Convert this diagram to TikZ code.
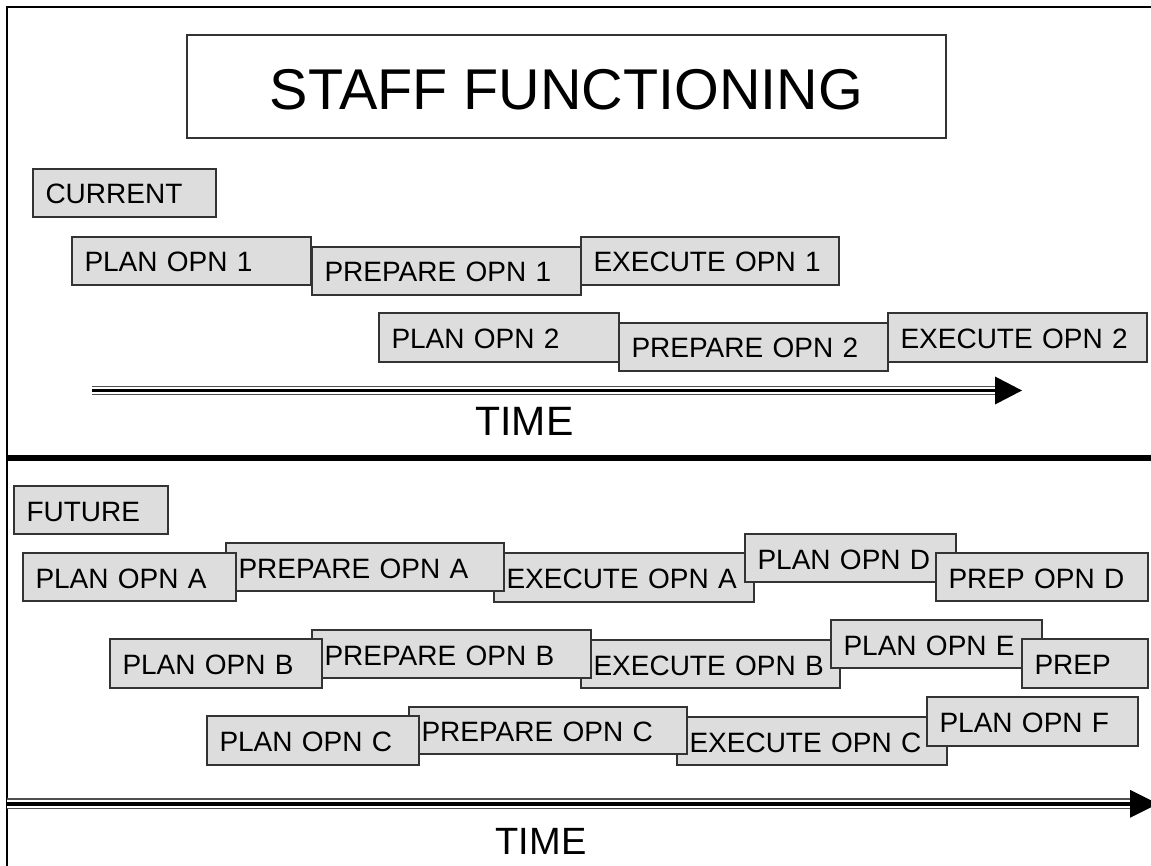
\documentclass[tikz,border=0pt]{standalone}
\usepackage{fontspec}
\setmainfont{Liberation Sans}
\definecolor{boxfill}{HTML}{DDDDDD}
\definecolor{boxline}{HTML}{333333}
\definecolor{railgray}{HTML}{505050}
\tikzset{
  opbox/.style={draw=boxline, fill=boxfill, line width=1.4pt, rectangle,
    inner xsep=12.5pt, inner ysep=0pt, outer sep=0pt, align=left,
    text height=22pt, text depth=0pt, font=\fontsize{28}{30}\selectfont,
    anchor=north west},
  titlebox/.style={draw=boxline, fill=white, line width=1.4pt, rectangle,
    inner sep=0pt, outer sep=0pt, text height=47pt, text depth=0pt,
    font=\fontsize{57.5}{60}\selectfont, anchor=north west},
  timelabel/.style={font=\fontsize{38}{40}\selectfont, inner sep=0pt},
  railout/.style={draw=railgray, line width=1.6pt, double=white, double distance=6pt},
  railin/.style={draw=black, line width=3pt},
  railoutb/.style={draw=railgray, line width=1.8pt, double=white, double distance=7.4pt},
  railinb/.style={draw=black, line width=3.7pt},
  frame/.style={draw=black, line width=2pt},
  divider/.style={draw=black, line width=5.5pt},
}
\newcommand\opb[6]{%
  \pgfmathsetmacro\bxw{#4-#2-25}%
  \pgfmathsetmacro\bxh{#5-#3}%
  \node[opbox, text width=\bxw pt, minimum height=\bxh pt] (#1) at (#2,#3) {#6};}
\begin{document}
\begin{tikzpicture}[x=1pt,y=-1pt]
\useasboundingbox (0,0) rectangle (1151,866);
\fill[white] (0,0) rectangle (1151,866);
% frame and divider
\draw[frame] (7,866) -- (7,7.5) -- (1151,7.5);
\draw[divider] (7,458) -- (1151,458);
% title
\pgfmathsetmacro\tw{946-187}
\pgfmathsetmacro\th{138-35}
\node[titlebox, minimum width=\tw pt, minimum height=\th pt] (title) at (187,35) {STAFF FUNCTIONING};
% current
\opb{cur}{33}{169}{216}{217}{CURRENT}
\opb{p1}{72}{237}{311}{285}{PLAN OPN 1}
\opb{r1}{312}{247}{581}{295}{PREPARE OPN 1}
\opb{e1}{581}{237}{839}{285}{EXECUTE OPN 1}
\opb{p2}{379}{313}{619}{362}{PLAN OPN 2}
\opb{r2}{619}{323}{888}{371}{PREPARE OPN 2}
\opb{e2}{888}{313}{1147}{362}{EXECUTE OPN 2}
% top time arrow
\coordinate (t1s) at (92,390.5);
\coordinate (t1b) at (995,390.5);
\draw[railout] (t1s) -- (t1b);
\draw[railin] (t1s) -- (t1b);
\fill[black] (t1b) ++(0,-14) -- ++(27,14) -- ++(-27,14) -- cycle;
\node[timelabel, font=\fontsize{41}{44}\selectfont] (time1) at (524.5,421) {TIME};
% future
\opb{fut}{14}{486}{168}{534}{FUTURE}
\opb{ea}{494}{553}{754}{602}{EXECUTE OPN A}
\opb{ra}{226}{543}{504}{591}{PREPARE OPN A}
\opb{pa}{23}{553}{236}{601}{PLAN OPN A}
\opb{pd}{745}{534}{956}{582}{PLAN OPN D}
\opb{qd}{936}{553}{1148}{601}{PREP OPN D}
\opb{eb}{581}{640}{840}{688}{EXECUTE OPN B}
\opb{rb}{312}{630}{591}{678}{PREPARE OPN B}
\opb{pb}{110}{639}{322}{688}{PLAN OPN B}
\opb{pe}{831}{620}{1042}{668}{PLAN OPN E}
\opb{qb}{1022}{639}{1148}{688}{PREP}
\opb{ec}{677}{717}{947}{765}{EXECUTE OPN C}
\opb{rc}{409}{707}{687}{754}{PREPARE OPN C}
\opb{pc}{207}{716}{419}{765}{PLAN OPN C}
\opb{pf}{927}{697}{1138}{746}{PLAN OPN F}
% bottom time arrow
\coordinate (t2s) at (7,803.8);
\coordinate (t2b) at (1130,803.8);
\draw[railoutb] (t2s) -- (t2b);
\draw[railinb] (t2s) -- (t2b);
\fill[black] (t2b) ++(0,-14) -- ++(28,14) -- ++(-28,14) -- cycle;
\node[timelabel] (time2) at (541,841) {TIME};
\end{tikzpicture}
\end{document}
